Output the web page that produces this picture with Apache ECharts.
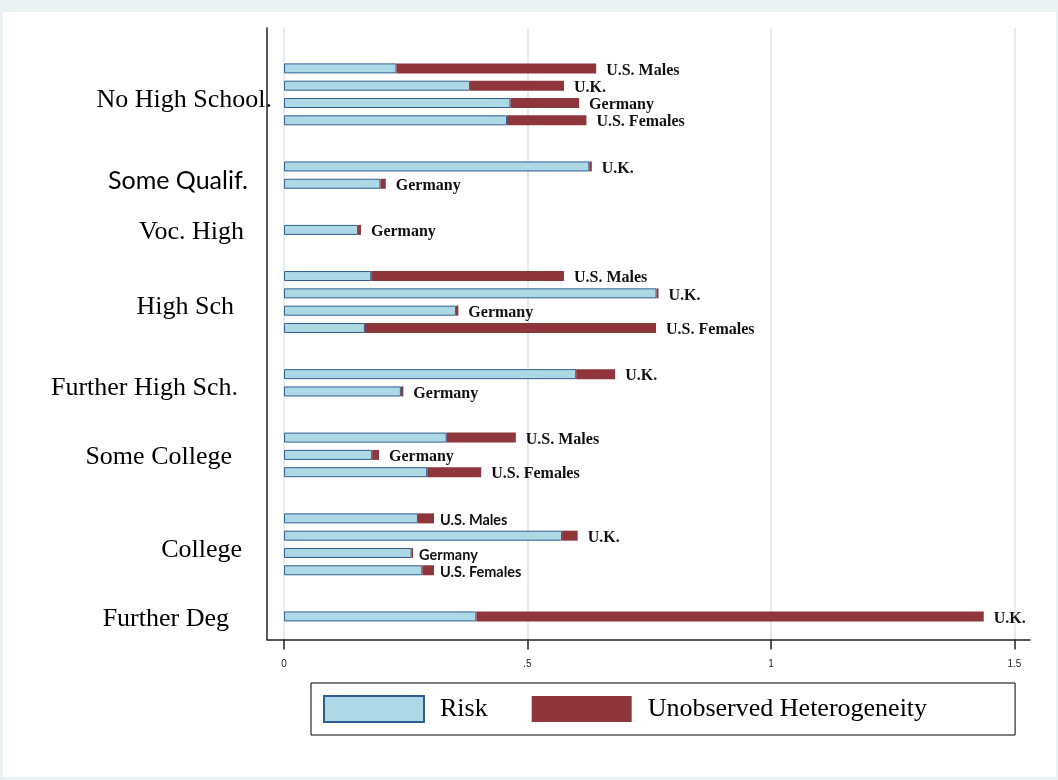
<!DOCTYPE html>
<html><head><meta charset="utf-8">
<script src="https://cdn.jsdelivr.net/npm/echarts@6/dist/echarts.min.js"></script>
<style>
html,body{margin:0;padding:0;background:#e9f1f3;width:1058px;height:780px;overflow:hidden;}
#c{position:absolute;left:3px;top:12px;width:1053px;height:765px;background:#ffffff;}
</style>
</head><body><div id="c"></div>
<script>
const groups = ['No High School.', 'Some Qualif.', 'Voc. High', 'High Sch', 'Further High Sch.', 'Some College', 'College', 'Further Deg'];
const countries = [
  ['U.S. Males', 'U.K.', 'Germany', 'U.S. Females'],
  ['U.K.', 'Germany'],
  ['Germany'],
  ['U.S. Males', 'U.K.', 'Germany', 'U.S. Females'],
  ['U.K.', 'Germany'],
  ['U.S. Males', 'Germany', 'U.S. Females'],
  ['U.S. Males', 'U.K.', 'Germany', 'U.S. Females'],
  ['U.K.']
];
const risk = [
  [0.231, 0.382, 0.465, 0.458],
  [0.627, 0.198],
  [0.152],
  [0.179, 0.765, 0.353, 0.166],
  [0.600, 0.240],
  [0.334, 0.181, 0.294],
  [0.275, 0.571, 0.262, 0.284],
  [0.395]
];
const unobserved = [
  [0.410, 0.193, 0.141, 0.163],
  [0.005, 0.011],
  [0.006],
  [0.396, 0.004, 0.005, 0.598],
  [0.080, 0.005],
  [0.142, 0.014, 0.111],
  [0.033, 0.032, 0.003, 0.024],
  [1.042]
];
const seriesNames = ['Risk', 'Unobserved Heterogeneity'];
const xTickValues = [0, 0.5, 1, 1.5];
const xTickLabels = ['0', '.5', '1', '1.5'];

// ---- layout helpers (slots on the category axis) ----
const SLOT_PER_BAR = 3, GROUP_GAP = 5, TOP_PAD = 7, TOTAL = 107;
const cats = [], riskData = [], unobsData = [], barCountry = [], barGroup = [], labelAt = {};
for (let i = 0; i < TOTAL; i++) { cats.push('s' + i); riskData.push('-'); unobsData.push('-'); barCountry.push(''); barGroup.push(-1); }
let cur = TOP_PAD;
groups.forEach((g, gi) => {
  const first = cur;
  countries[gi].forEach((c, j) => {
    riskData[cur] = risk[gi][j];
    unobsData[cur] = unobserved[gi][j];
    barCountry[cur] = c;
    barGroup[cur] = gi;
    cur += SLOT_PER_BAR;
  });
  const last = cur - SLOT_PER_BAR;
  labelAt[Math.ceil((first + last) / 2)] = gi;
  cur += GROUP_GAP;
});

const SERIF = '"Liberation Serif", "DejaVu Serif", serif';
const SANS = 'Lato, "Noto Sans", sans-serif';
const groupPad = [0, 24, 28, 38, 34, 40, 30, 43];
const groupRich = {};
groups.forEach((g, gi) => {
  const sans = gi === 1;
  groupRich['g' + gi] = {
    fontFamily: sans ? SANS : SERIF,
    fontSize: sans ? 25 : 26,
    color: '#000',
    padding: [5, groupPad[gi], 0, 0]
  };
});

const chart = echarts.init(document.getElementById('c'), null, { renderer: 'canvas' });
chart.setOption({
  backgroundColor: '#ffffff',
  animation: false,
  grid: { left: 264, right: 26, top: 16, bottom: 137.5, containLabel: false },
  legend: {
    left: 308, top: 671,
    orient: 'horizontal',
    icon: 'rect',
    padding: [12, 88, 12, 12],
    borderColor: '#000', borderWidth: 1,
    itemWidth: 100, itemHeight: 26, itemGap: 44,
    textStyle: { fontFamily: SERIF, fontSize: 26, color: '#000', padding: [5, 0, 0, 11] },
    data: seriesNames
  },
  xAxis: {
    type: 'value',
    min: -0.035, max: 1.532,
    axisLine: { show: true, onZero: false, lineStyle: { color: '#222', width: 1.5 } },
    axisTick: { show: true, customValues: xTickValues, length: 10, lineStyle: { color: '#222', width: 1.5 } },
    axisLabel: {
      customValues: xTickValues,
      formatter: v => xTickLabels[xTickValues.indexOf(v)] ?? '',
      fontFamily: '"Liberation Sans", Arial, sans-serif', fontSize: 10, color: '#222', margin: 20
    },
    splitLine: { show: true, lineStyle: { color: '#e3ecf0', width: 2 } }
  },
  yAxis: {
    type: 'category',
    data: cats,
    inverse: true,
    boundaryGap: false,
    axisLine: { show: true, onZero: false, lineStyle: { color: '#222', width: 1.5 } },
    axisTick: { show: false },
    splitLine: { show: false },
    axisLabel: {
      interval: 0,
      margin: -5,
      formatter: (v, idx) => {
        const gi = labelAt[idx];
        if (gi === undefined) return '';
        return '{g' + gi + '|' + groups[gi] + '}';
      },
      rich: groupRich
    }
  },
  series: [
    {
      name: seriesNames[0], type: 'bar', stack: 'a', barWidth: 10,
      itemStyle: { color: '#add8e6', borderColor: '#2f5e8e', borderWidth: 1 },
      data: riskData
    },
    {
      name: seriesNames[1], type: 'bar', stack: 'a', barWidth: 10,
      itemStyle: { color: '#8f353c' },
      label: {
        show: true, position: 'right', distance: 10, offset: [0, 2],
        formatter: p => {
          const c = barCountry[p.dataIndex];
          const gi = barGroup[p.dataIndex];
          const sans = groups[gi] === 'College' && c !== 'U.K.';
          return '{' + (sans ? 's' : 't') + '|' + c + '}';
        },
        rich: {
          t: { fontFamily: SERIF, fontWeight: 'bold', fontSize: 16, color: '#111' },
          s: { fontFamily: SANS, fontWeight: 'bold', fontSize: 14.5, color: '#111', padding: [0, 0, 0, -4] }
        }
      },
      data: unobsData
    }
  ]
});
</script>
</body></html>
